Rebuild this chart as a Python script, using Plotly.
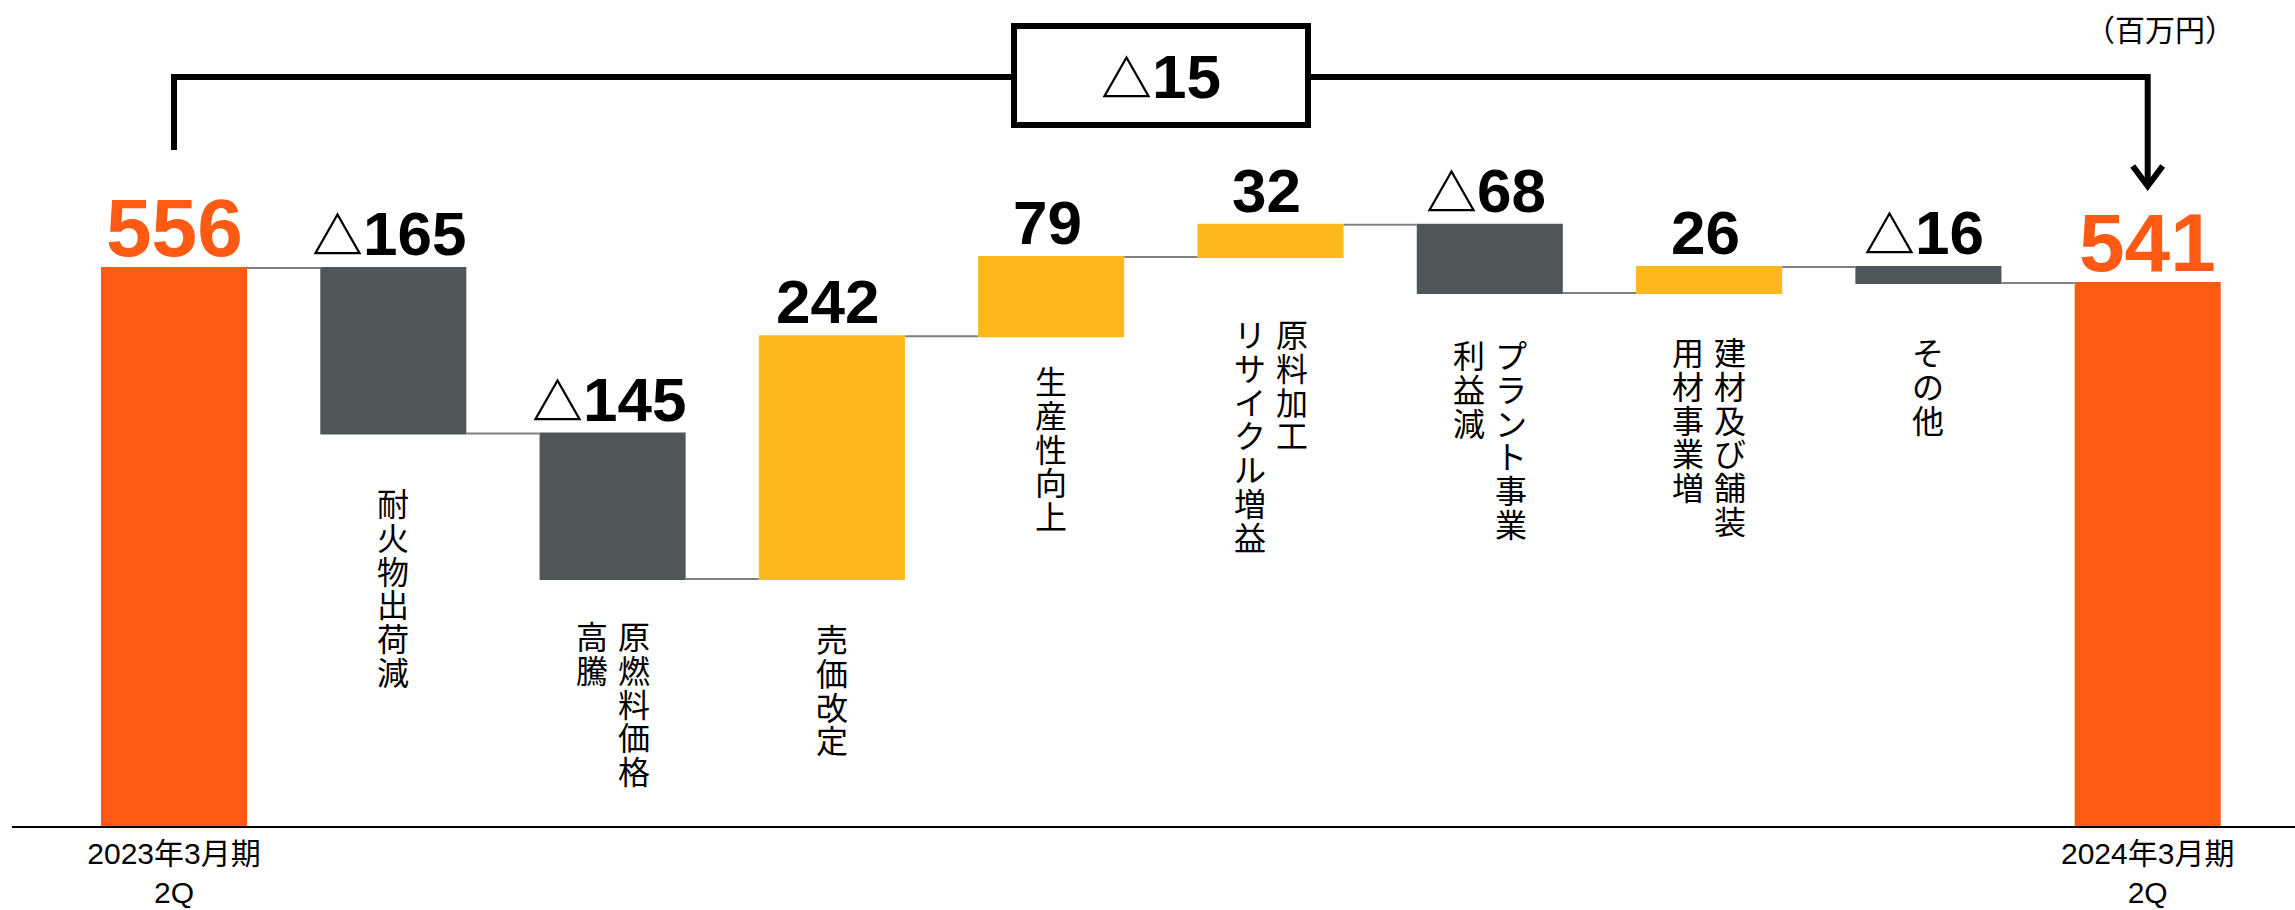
import plotly.graph_objects as go

# ---------------- data ----------------
period_labels = ["2023年3月期<br>2Q", "2024年3月期<br>2Q"]
factor_labels = [
    ["耐火物出荷減"],
    ["原燃料価格", "高騰"],
    ["売価改定"],
    ["生産性向上"],
    ["原料加工", "リサイクル増益"],
    ["プラント事業", "利益減"],
    ["建材及び舗装", "用材事業増"],
    ["その他"],
]
values = [556, -165, -145, 242, 79, 32, -68, 26, -16, 541]
measures = ["absolute"] + ["relative"] * 8 + ["total"]
unit_label = "（百万円）"

# ---------------- style ----------------
C_TOTAL = "#FF5A14"
C_UP = "#FDB81C"
C_DOWN = "#505558"
NUM_FONT = "Liberation Sans, Arial, Noto Sans CJK JP"
JP_FONT = "Noto Sans CJK JP, Liberation Sans"

W, H = 2295, 910
PLOT_L, PLOT_B = 12, 84
PLOT_H = H - PLOT_B            # 826 px
PX_PER_UNIT = 1.0036
X0_PX, PITCH_PX = 174.0, 219.3

def xd(px):
    return (px - X0_PX) / PITCH_PX

def yd(px):
    return (PLOT_H - px) / PX_PER_UNIT

def fmt(v, size):
    if v < 0:
        return (f'<span style="font-size:{round(size * 0.82)}px">△</span>'
                f'{abs(v)}')
    return str(v)

xs = list(range(len(values)))

# running levels
tops, bottoms = [], []
level = 0
for v, m in zip(values, measures):
    if m == "absolute":
        s, e = 0, v
        level = v
    elif m == "relative":
        s, e = level, level + v
        level = e
    else:
        s, e = 0, level
    tops.append(max(s, e))
    bottoms.append(min(s, e))

fig = go.Figure(go.Waterfall(
    x=xs,
    y=values,
    measure=measures,
    increasing=dict(marker=dict(color=C_UP)),
    decreasing=dict(marker=dict(color=C_DOWN)),
    totals=dict(marker=dict(color=C_TOTAL)),
    connector=dict(mode="between", line=dict(color="#808080", width=2)),
    textinfo="none",
    hoverinfo="skip",
))

annotations = []
# value labels
for i, v in enumerate(values):
    is_total = measures[i] != "relative"
    size = 82 if is_total else 62
    annotations.append(dict(
        x=i, y=tops[i], xref="x", yref="y", yanchor="bottom", xanchor="center",
        text=fmt(v, size), showarrow=False,
        yshift=-7 if is_total else -2,
        xshift=0 if is_total else -4,
        font=dict(family=NUM_FONT, size=size,
                  color=C_TOTAL if is_total else "black", weight="bold"),
    ))

# vertical category labels (top-to-bottom, columns right-to-left)
label_gap_px = [43, 31, 34, 19, 51, 36, 33, 43]
CH_SIZE = 32
BASE_SIZE = 26          # line pitch = 1.3 * 26 ≈ 34 px
COL_DX = 21.0
for j, cols in enumerate(factor_labels):
    k = j + 1
    n = len(cols)
    bottom_px = PLOT_H - bottoms[k] * PX_PER_UNIT
    for c, col in enumerate(cols):
        offset = (n - 1) / 2.0 - c
        cx = k + (offset * 2 * COL_DX) / PITCH_PX
        txt = "<br>".join(f'<span style="font-size:{CH_SIZE}px">{ch}</span>' for ch in col)
        annotations.append(dict(
            x=cx, y=yd(bottom_px + label_gap_px[j]), xref="x", yref="y",
            xanchor="center", yanchor="top",
            text=txt, showarrow=False,
            font=dict(family=JP_FONT, size=BASE_SIZE, color="black"),
        ))

# total change box label
annotations.append(dict(
    x=(xs[0] + xs[-1]) / 2.0, y=yd(76), xref="x", yref="y",
    xanchor="center", yanchor="middle", showarrow=False,
    text=fmt(values[-1] - values[0], 62),
    font=dict(family=NUM_FONT, size=62, color="black", weight="bold"),
))
# unit
annotations.append(dict(
    x=xd(2160), y=yd(28), xref="x", yref="y",
    xanchor="center", yanchor="middle", showarrow=False,
    text=unit_label, font=dict(family=JP_FONT, size=30, color="black"),
))

xa, xb = xs[0], xs[-1]
ch_dx = 15 / PITCH_PX
shapes = [
    dict(type="path", xref="x", yref="y",
         path=f"M {xa},{yd(150)} L {xa},{yd(77)} L {xb},{yd(77)} L {xb},{yd(185)}",
         line=dict(color="black", width=6)),
    dict(type="path", xref="x", yref="y",
         path=f"M {xb - ch_dx},{yd(166)} L {xb},{yd(186)} L {xb + ch_dx},{yd(166)}",
         line=dict(color="black", width=6)),
    dict(type="rect", xref="x", yref="y",
         x0=xd(1014), x1=xd(1308), y0=yd(26), y1=yd(125),
         line=dict(color="black", width=6), fillcolor="white"),
]

fig.update_layout(
    width=W, height=H,
    margin=dict(l=PLOT_L, r=0, t=0, b=PLOT_B),
    paper_bgcolor="white", plot_bgcolor="white",
    showlegend=False,
    waterfallgap=0.334,
    annotations=annotations,
    shapes=shapes,
    xaxis=dict(
        range=[xd(PLOT_L), xd(W)],
        tickvals=[xs[0], xs[-1]], ticktext=period_labels,
        tickfont=dict(family=NUM_FONT, size=30, color="black"),
        showline=True, linecolor="black", linewidth=2,
        showgrid=False, zeroline=False, ticks="", automargin=False,
        fixedrange=True,
    ),
    yaxis=dict(range=[0, PLOT_H / PX_PER_UNIT], visible=False,
               showgrid=False, zeroline=False, fixedrange=True),
)

fig.write_html("out.html")
